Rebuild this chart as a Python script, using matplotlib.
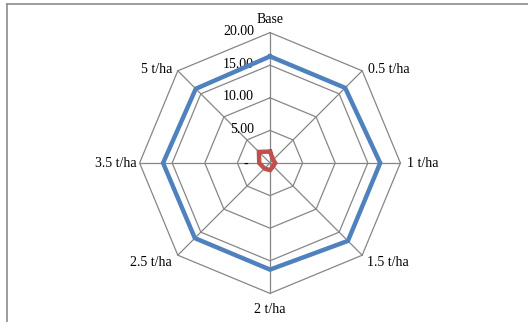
import numpy as np
import matplotlib
matplotlib.use("Agg")
import matplotlib.pyplot as plt
from matplotlib.lines import Line2D

categories = ["Base", "0.5 t/ha", "1 t/ha", "1.5 t/ha", "2 t/ha", "2.5 t/ha", "3.5 t/ha", "5 t/ha"]
series_blue = [16.35, 16.3, 16.9, 16.9, 16.35, 16.3, 16.4, 16.1]
series_red = [1.75, 0.7, 0.8, 0.7, 1.1, 1.2, 1.65, 2.4]
ring_levels = [0, 5, 10, 15, 20]
ring_labels = ["-", "5.00", "10.00", "15.00", "20.00"]

W, H = 528, 322
cx, cy = 270, 163          # centre of the radar, pixels
ppu = 6.52                 # pixels per data unit

fig = plt.figure(figsize=(W / 100, H / 100), dpi=100)
ax = fig.add_axes([0, 0, 1, 1])
ax.set_xlim(-cx / ppu, (W - cx) / ppu)
ax.set_ylim(-(H - cy) / ppu, cy / ppu)
ax.axis("off")

n = len(categories)
theta = np.arange(n) * 2 * np.pi / n


def to_xy(r):
    r = np.asarray(r, dtype=float)
    return r * np.sin(theta), r * np.cos(theta)


grid_c = "#868686"
rmax = ring_levels[-1]
for lv in ring_levels[1:]:
    x, y = to_xy([lv] * n)
    ax.plot(np.append(x, x[0]), np.append(y, y[0]), color=grid_c, lw=0.9, zorder=1)
for t in theta:
    ax.plot([0, rmax * np.sin(t)], [0, rmax * np.cos(t)], color=grid_c, lw=0.9, zorder=1)

font = dict(family="Liberation Serif", fontsize=10, color="#000000")

# value labels on the vertical spoke
for lv, lab in zip(ring_levels, ring_labels):
    if lv:
        ax.annotate(lab, (0, lv), xytext=(-16, 1), textcoords="offset pixels",
                    ha="right", va="center", **font)
    else:
        ax.annotate(lab, (0, lv), xytext=(-24, -1), textcoords="offset pixels",
                    ha="center", va="center", **font)

# category labels around the outer ring
label_offsets = [(0, 13, "center"), (6, 1, "left"), (7, 0, "left"), (5, -7, "left"),
                 (0, -16, "center"), (-6, -7, "right"), (-3, 0, "right"), (-5, 1, "right")]
xo, yo = to_xy([rmax] * n)
for lab, px, py, (dx, dy, ha) in zip(categories, xo, yo, label_offsets):
    ax.annotate(lab, (px, py), xytext=(dx, dy), textcoords="offset pixels",
                ha=ha, va="center", **font)

for vals, col in [(series_blue, "#4F81BD"), (series_red, "#C0504D")]:
    x, y = to_xy(vals)
    ax.plot(np.append(x, x[0]), np.append(y, y[0]), color=col, lw=3.2,
            solid_joinstyle="miter", zorder=3)

# chart-area frame
frame_c = "#8c8c8c"
fig.add_artist(Line2D([7 / W, 1.0], [1 - 4 / H, 1 - 4 / H], transform=fig.transFigure,
                      color=frame_c, lw=1.2))
fig.add_artist(Line2D([7 / W, 7 / W], [0.0, 1 - 4 / H], transform=fig.transFigure,
                      color=frame_c, lw=1.2))

fig.savefig("out.png", dpi=100)
